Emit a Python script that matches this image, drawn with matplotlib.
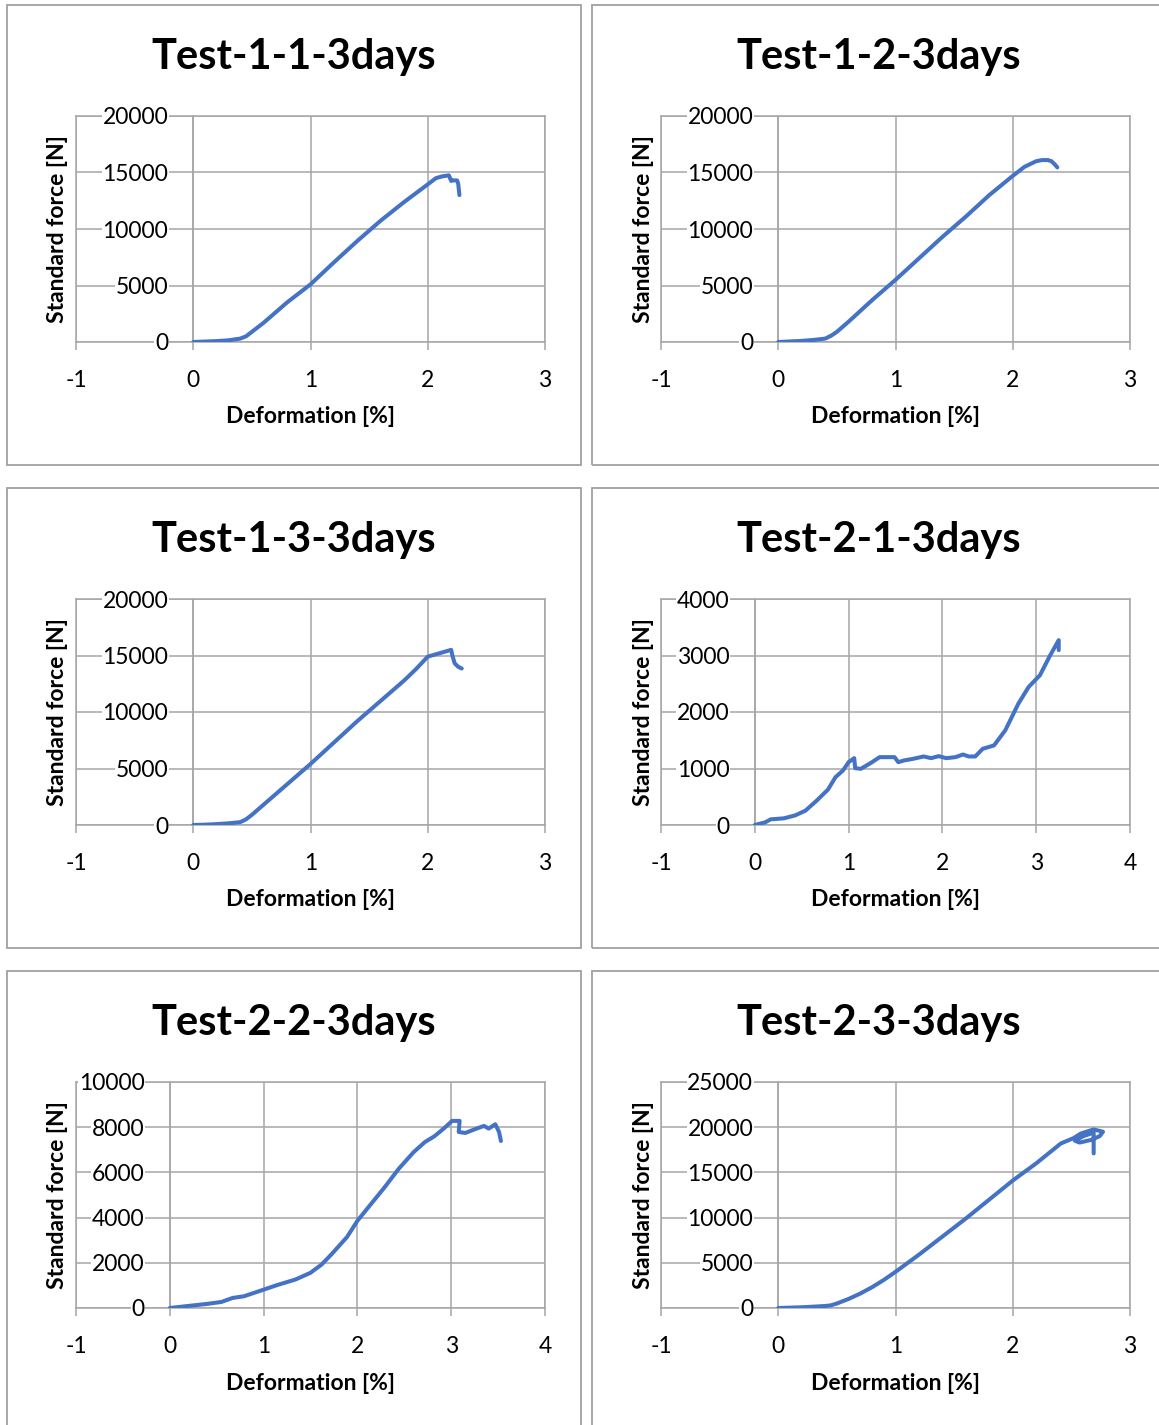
import matplotlib
matplotlib.use("Agg")
import matplotlib.pyplot as plt
from matplotlib.patches import Rectangle

plt.rcParams['font.family'] = ['Lato', 'DejaVu Sans']
plt.rcParams['axes.unicode_minus'] = False

# ------------------------------------------------------
# Test data: deformation [%] vs standard force [N]
# ------------------------------------------------------
titles = ["Test-1-1-3days", "Test-1-2-3days", "Test-1-3-3days",
          "Test-2-1-3days", "Test-2-2-3days", "Test-2-3-3days"]

def_1_1 = [0, 0.1, 0.2, 0.3, 0.4, 0.45, 0.5, 0.6, 0.7, 0.8, 0.9, 1.0, 1.2, 1.4,
           1.6, 1.8, 2.0, 2.07, 2.12, 2.18, 2.2, 2.21, 2.25, 2.26, 2.27]
force_1_1 = [0, 40, 80, 150, 300, 500, 900, 1700, 2600, 3500, 4300, 5100, 7050, 8950,
             10750, 12400, 13950, 14500, 14650, 14750, 14250, 14300, 14300, 14000, 13000]

def_1_2 = [0, 0.1, 0.2, 0.3, 0.4, 0.45, 0.5, 0.6, 0.7, 0.8, 0.9, 1.0, 1.2, 1.4,
           1.6, 1.8, 2.0, 2.1, 2.2, 2.25, 2.3, 2.33, 2.36, 2.38]
force_1_2 = [0, 50, 100, 180, 300, 550, 900, 1800, 2750, 3700, 4600, 5500, 7400, 9300,
             11100, 13000, 14700, 15500, 16000, 16100, 16100, 16000, 15700, 15450]

def_1_3 = [0, 0.1, 0.2, 0.3, 0.4, 0.45, 0.5, 0.6, 0.7, 0.8, 0.9, 1.0, 1.2, 1.4,
           1.6, 1.8, 1.9, 2.0, 2.1, 2.2, 2.21, 2.23, 2.26, 2.29]
force_1_3 = [0, 30, 80, 150, 250, 500, 900, 1800, 2700, 3600, 4500, 5400, 7300, 9200,
             11000, 12800, 13800, 14900, 15200, 15500, 15000, 14300, 14000, 13850]

def_2_1 = [0, 0.11, 0.17, 0.31, 0.43, 0.54, 0.66, 0.78, 0.86, 0.94, 1.0, 1.06, 1.07,
           1.13, 1.25, 1.33, 1.49, 1.53, 1.59, 1.69, 1.80, 1.88, 1.96, 2.04, 2.14,
           2.22, 2.28, 2.35, 2.43, 2.55, 2.67, 2.81, 2.92, 3.04, 3.14, 3.24, 3.24]
force_2_1 = [0, 47, 100, 118, 170, 254, 432, 627, 846, 965, 1112, 1183, 1006,
             994, 1112, 1201, 1201, 1112, 1142, 1172, 1213, 1183, 1219, 1183, 1201,
             1248, 1213, 1213, 1349, 1408, 1675, 2148, 2444, 2651, 2976, 3272, 3095]

def_2_2 = [0, 0.16, 0.39, 0.55, 0.67, 0.79, 0.95, 1.14, 1.34, 1.50, 1.62, 1.73, 1.89,
           2.0, 2.13, 2.29, 2.44, 2.60, 2.72, 2.82, 2.92, 3.01, 3.09, 3.08, 3.15,
           3.27, 3.35, 3.40, 3.47, 3.51, 3.53]
force_2_2 = [0, 74, 178, 267, 445, 519, 742, 1009, 1261, 1558, 1929, 2404, 3145,
             3858, 4525, 5341, 6157, 6899, 7344, 7596, 7938, 8279, 8279, 7789, 7745,
             7938, 8057, 7938, 8131, 7789, 7389]

def_2_3 = [0, 0.1, 0.2, 0.3, 0.4, 0.45, 0.5, 0.6, 0.7, 0.8, 0.9, 1.0, 1.2, 1.4,
           1.5, 1.6, 1.8, 2.0, 2.2, 2.41, 2.52, 2.58, 2.69, 2.77, 2.74, 2.67, 2.57,
           2.53, 2.60, 2.69, 2.69]
force_2_3 = [0, 40, 80, 150, 220, 300, 500, 1000, 1600, 2300, 3100, 4000, 5900, 7900,
             8900, 9900, 12000, 14100, 16000, 18200, 18800, 19300, 19750, 19500, 19000,
             18600, 18300, 18500, 19000, 19400, 17100]

deformations = [def_1_1, def_1_2, def_1_3, def_2_1, def_2_2, def_2_3]
forces = [force_1_1, force_1_2, force_1_3, force_2_1, force_2_2, force_2_3]

# axis ranges for each chart
x_max = [3, 3, 3, 4, 4, 3]
y_max = [20000, 20000, 20000, 4000, 10000, 25000]
y_step = [5000, 5000, 5000, 1000, 2000, 5000]

# ------------------------------------------------------
# Layout (pixel based)
# ------------------------------------------------------
W, H = 1159, 1425
LINE = '#4472C4'
GRID = '#A6A6A6'

fig = plt.figure(figsize=(W / 100, H / 100), dpi=100)


def fx(px):
    return px / W


def fy(py):
    return 1 - py / H


for i in range(6):
    row, col = i // 2, i % 2
    dx = col * 585
    dy = row * 483

    # chart frame
    fig.patches.append(Rectangle((fx(7 + dx), fy(465 + dy)), fx(574), 460 / H,
                                 transform=fig.transFigure, fill=False,
                                 edgecolor='#A0A0A0', lw=1.3))

    left, right = 76 + dx, 545 + dx
    top, bottom = 116 + dy, 342 + dy
    ax = fig.add_axes([fx(left), fy(bottom), fx(right - left), (bottom - top) / H])

    ax.plot(deformations[i], forces[i], color=LINE, lw=2.9,
            solid_joinstyle='round', solid_capstyle='round', zorder=3)

    ax.set_xlim(-1, x_max[i])
    ax.set_ylim(0, y_max[i])
    ax.set_xticks(range(-1, x_max[i] + 1))
    ax.set_yticks(range(0, y_max[i] + 1, y_step[i]))
    ax.grid(True, color=GRID, lw=1.1)
    ax.set_axisbelow(True)

    # spines sit under the tick labels so the white label boxes hide them
    for s in ax.spines.values():
        s.set_color(GRID)
        s.set_linewidth(1.1)
        s.set_zorder(0.4)
    ax.spines['left'].set_position(('data', 0))
    ax.axvline(-1, color=GRID, lw=1.1, clip_on=False, zorder=0.4)

    ax.tick_params(axis='x', direction='out', length=6, width=1.1, color=GRID,
                   pad=14, labelsize=16.5, labelcolor='black')
    ax.tick_params(axis='y', length=0, pad=18, labelsize=16.5, labelcolor='black')
    for lab in ax.get_yticklabels():
        lab.set_bbox(dict(facecolor='white', edgecolor='none', pad=0.5))

    # titles and axis labels
    fig.text(fx(294 + dx), fy(57 + dy), titles[i], ha='center', va='center',
             fontsize=30, fontweight='bold')
    fig.text(fx((left + right) / 2), fy(417 + dy), "Deformation [%]", ha='center',
             va='center', fontsize=16.5, fontweight='bold')
    fig.text(fx(58 + dx), fy((top + bottom) / 2), "Standard force [N]", ha='center',
             va='center', rotation=90, fontsize=16.5, fontweight='bold')

fig.savefig("out.png", dpi=100)
